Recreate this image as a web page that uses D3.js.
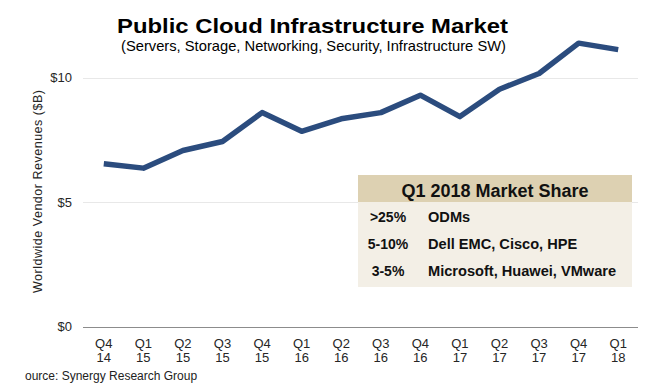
<!DOCTYPE html>
<html><head><meta charset="utf-8">
<script src="https://cdn.jsdelivr.net/npm/d3@7"></script>
<style>body{margin:0;background:#fff}svg{display:block;font-family:Arial,"Liberation Sans",sans-serif}</style>
</head><body><svg id="c" width="649" height="391"></svg>
<script>
const quarters = ["Q4","Q1","Q2","Q3","Q4","Q1","Q2","Q3","Q4","Q1","Q2","Q3","Q4","Q1"];
const years    = ["14","15","15","15","15","16","16","16","16","17","17","17","17","18"];
const revenues = [6.54,6.36,7.07,7.43,8.59,7.84,8.34,8.59,9.29,8.43,9.53,10.16,11.38,11.12];
const yTicks = [0,5,10];
const tickLabels = ["$0","$5","$10"];
const shareRanges = [">25%","5-10%","3-5%"];
const shareVendors = ["ODMs","Dell EMC, Cisco, HPE","Microsoft, Huawei, VMware"];

const svg = d3.select("#c");
const cats = quarters.map((q,i)=>q+" "+years[i]);
const x = d3.scaleBand().domain(cats).range([84,638]);
const y = d3.scaleLinear().domain([0,10]).range([326.5,77.5]);

// gridlines
svg.append("g").selectAll("line").data(yTicks).join("line")
  .attr("x1",83).attr("x2",638)
  .attr("y1",d=>Math.round(y(d))+0.5).attr("y2",d=>Math.round(y(d))+0.5)
  .attr("stroke",d=>d===0?"#8c8c8c":"#e8e8e8").attr("stroke-width",1);

svg.append("g").selectAll("text").data(yTicks).join("text")
  .attr("x",72).attr("y",d=>y(d)+4.5).attr("text-anchor","end")
  .attr("font-size",13).attr("fill","#262626").text((d,i)=>tickLabels[i]);

svg.append("text").attr("transform","translate(42,191.5) rotate(-90)")
  .attr("text-anchor","middle").attr("font-size",12.5).attr("fill","#262626")
  .attr("textLength",203).attr("lengthAdjust","spacing")
  .text("Worldwide Vendor Revenues ($B)");

// x labels
const xl = svg.append("g").selectAll("text").data(cats).join("text")
  .attr("text-anchor","middle").attr("font-size",13).attr("fill","#262626");
xl.append("tspan").attr("x",d=>x(d)+x.bandwidth()/2).attr("y",347.5).text((d,i)=>quarters[i]);
xl.append("tspan").attr("x",d=>x(d)+x.bandwidth()/2).attr("y",362).text((d,i)=>years[i]);

// line
const line = d3.line().x((d,i)=>x(cats[i])+x.bandwidth()/2).y(d=>y(d));
svg.append("path").datum(revenues).attr("d",line)
  .attr("fill","none").attr("stroke","#2b4c7e").attr("stroke-width",5.5)
  .attr("stroke-linejoin","round");

// table box
const bx=358, bw=274, by=175, hh=27, bh=112;
svg.append("rect").attr("x",bx).attr("y",by+hh).attr("width",bw).attr("height",bh-hh).attr("fill","#f3efe6");
svg.append("rect").attr("x",bx).attr("y",by).attr("width",bw).attr("height",hh).attr("fill","#ddd1b2");
svg.append("text").attr("x",bx+bw/2).attr("y",by+21.5).attr("text-anchor","middle")
  .attr("font-size",18).attr("font-weight","bold").attr("fill","#111").text("Q1 2018 Market Share");
const rows = svg.append("g").selectAll("g").data(shareRanges).join("g");
rows.append("text").attr("x",388).attr("y",(d,i)=>222+i*27).attr("text-anchor","middle")
  .attr("font-size",14).attr("font-weight","bold").attr("fill","#111").text(d=>d);
rows.append("text").attr("x",428).attr("y",(d,i)=>222+i*27)
  .attr("font-size",14.6).attr("font-weight","bold").attr("fill","#111").text((d,i)=>shareVendors[i]);

// titles
svg.append("text").attr("x",117).attr("y",33).attr("font-size",21).attr("font-weight","bold")
  .attr("fill","#000").attr("textLength",391).attr("lengthAdjust","spacingAndGlyphs")
  .text("Public Cloud Infrastructure Market");
svg.append("text").attr("x",121).attr("y",50.5).attr("font-size",14.5)
  .attr("fill","#000").attr("textLength",385).attr("lengthAdjust","spacingAndGlyphs")
  .text("(Servers, Storage, Networking, Security, Infrastructure SW)");
svg.append("text").attr("x",25).attr("y",380).attr("font-size",12).attr("fill","#222")
  .text("ource: Synergy Research Group");
</script></body></html>
